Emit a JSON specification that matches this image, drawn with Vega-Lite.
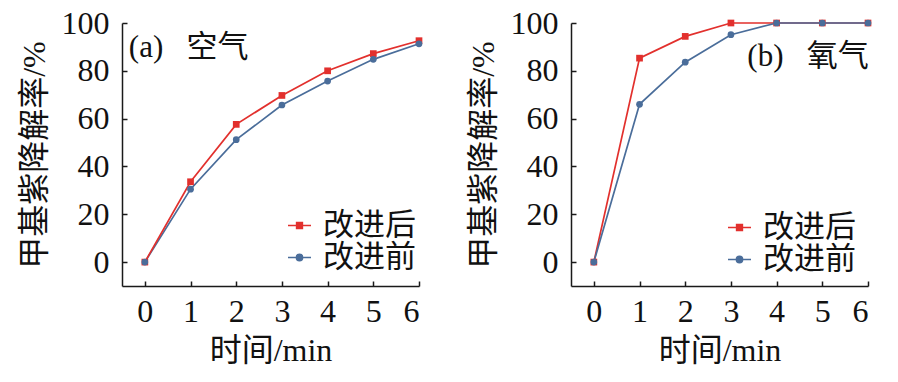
{
  "$schema": "https://vega.github.io/schema/vega-lite/v6.json",
  "padding": {"left": 18, "top": 7, "right": 0, "bottom": 0},
  "background": "white",
  "config": {
    "view": {"stroke": null},
    "font": "Liberation Serif, Noto Sans CJK SC",
    "axis": {
      "grid": false,
      "domainColor": "#1a1a1a",
      "domainWidth": 1.5,
      "tickColor": "#1a1a1a",
      "tickWidth": 1.5,
      "tickSize": -5,
      "labelFont": "Liberation Serif, Noto Sans CJK SC",
      "labelFontSize": 32,
      "labelColor": "#111",
      "titleFont": "Liberation Serif, Noto Sans CJK SC",
      "titleFontWeight": "normal",
      "titleColor": "#111"
    },
    "legend": {
      "symbolSize": 529,
      "symbolStrokeWidth": 1.6,
      "symbolOpacity": 1,
      "labelFontSize": 31,
      "labelFont": "Liberation Serif, Noto Sans CJK SC",
      "labelColor": "#111",
      "labelOffset": 8,
      "rowPadding": 0,
      "padding": 0
    }
  },
  "resolve": {
    "scale": {"fill": "independent", "stroke": "independent", "shape": "independent"},
    "legend": {"fill": "independent", "stroke": "independent", "shape": "independent"}
  },
  "datasets": {
    "air": [
      {"time": 0, "rate": 0, "series": "改进后"},
      {"time": 1, "rate": 33.6, "series": "改进后"},
      {"time": 2, "rate": 57.6, "series": "改进后"},
      {"time": 3, "rate": 69.7, "series": "改进后"},
      {"time": 4, "rate": 80.0, "series": "改进后"},
      {"time": 5, "rate": 87.2, "series": "改进后"},
      {"time": 6, "rate": 92.6, "series": "改进后"},
      {"time": 0, "rate": 0, "series": "改进前"},
      {"time": 1, "rate": 30.5, "series": "改进前"},
      {"time": 2, "rate": 51.2, "series": "改进前"},
      {"time": 3, "rate": 65.7, "series": "改进前"},
      {"time": 4, "rate": 75.7, "series": "改进前"},
      {"time": 5, "rate": 84.8, "series": "改进前"},
      {"time": 6, "rate": 91.3, "series": "改进前"}
    ],
    "oxygen": [
      {"time": 0, "rate": 0, "series": "改进后"},
      {"time": 1, "rate": 85.3, "series": "改进后"},
      {"time": 2, "rate": 94.4, "series": "改进后"},
      {"time": 3, "rate": 100, "series": "改进后"},
      {"time": 4, "rate": 100, "series": "改进后"},
      {"time": 5, "rate": 100, "series": "改进后"},
      {"time": 6, "rate": 100, "series": "改进后"},
      {"time": 0, "rate": 0, "series": "改进前"},
      {"time": 1, "rate": 66.0, "series": "改进前"},
      {"time": 2, "rate": 83.6, "series": "改进前"},
      {"time": 3, "rate": 95.1, "series": "改进前"},
      {"time": 4, "rate": 100, "series": "改进前"},
      {"time": 5, "rate": 100, "series": "改进前"},
      {"time": 6, "rate": 100, "series": "改进前"}
    ],
    "labelA": [{"time": -0.35, "rate": 89.5, "label": "(a)\u00a0\u00a0\u00a0空气"}],
    "labelB": [{"time": 3.36, "rate": 85.8, "label": "(b)\u00a0\u00a0\u00a0氧气"}]
  },
  "spacing": 44,
  "hconcat": [
    {
      "width": 297,
      "height": 263,
      "encoding": {
        "x": {"field": "time", "type": "quantitative", "scale": {"domain": [-0.5, 6], "nice": false, "zero": false},
              "axis": {"values": [0, 1, 2, 3, 4, 5, 6], "title": "时间/min", "titleFontSize": 32, "labelPadding": 15, "titlePadding": 8}},
        "y": {"field": "rate", "type": "quantitative", "scale": {"domain": [-10, 100], "nice": false, "zero": false},
              "axis": {"values": [0, 20, 40, 60, 80, 100], "title": "甲基紫降解率/%", "titleFontSize": 32, "labelPadding": 18, "titlePadding": 10}}
      },
      "layer": [
        {
          "data": {"name": "air"},
          "transform": [{"filter": "datum.series === '改进前'"}],
          "mark": {"type": "line", "strokeWidth": 1.7, "color": "#4a6d9a"},
          "encoding": {}
        },
        {
          "data": {"name": "air"},
          "transform": [{"filter": "datum.series === '改进后'"}],
          "mark": {"type": "line", "strokeWidth": 1.7, "color": "#e2302d"},
          "encoding": {}
        },
        {
          "data": {"name": "air"},
          "transform": [{"filter": "datum.series === '改进后'"}],
          "mark": {"type": "point", "filled": true, "opacity": 1, "size": 45, "shape": "square", "color": "#e2302d"},
          "encoding": {}
        },
        {
          "data": {"name": "air"},
          "transform": [{"filter": "datum.series === '改进前'"}],
          "mark": {"type": "point", "filled": true, "opacity": 1, "size": 45, "shape": "circle", "color": "#4a6d9a"},
          "encoding": {}
        },
        {
          "data": {"name": "air"},
          "transform": [{"filter": "datum.time > 100"}],
          "mark": {"type": "point", "filled": true, "opacity": 1, "strokeWidth": 1.6},
          "encoding": {
            "fill": {"field": "series", "type": "nominal", "scale": {"domain": ["改进后", "改进前"], "range": ["#e2302d", "#4a6d9a"]},
                     "legend": {"orient": "none", "title": null, "legendX": 162, "legendY": 187, "symbolOpacity": 1}},
            "stroke": {"field": "series", "type": "nominal", "scale": {"domain": ["改进后", "改进前"], "range": ["#e2302d", "#4a6d9a"]},
                     "legend": {"orient": "none", "title": null, "legendX": 162, "legendY": 187, "symbolOpacity": 1}},
            "shape": {"field": "series", "type": "nominal", "scale": {"domain": ["改进后", "改进前"], "range": ["M-1,0H1M-0.25,-0.25H0.25V0.25H-0.25Z", "M-1,0H1M0.27,0A0.27,0.27,0,1,1,-0.27,0A0.27,0.27,0,1,1,0.27,0Z"]},
                     "legend": {"orient": "none", "title": null, "legendX": 162, "legendY": 187, "symbolOpacity": 1}}
          }
        },
        {
          "data": {"name": "labelA"},
          "mark": {"type": "text", "align": "left", "baseline": "middle", "fontSize": 31, "font": "Liberation Serif, Noto Sans CJK SC", "color": "#111"},
          "encoding": {"text": {"field": "label"}}
        }
      ]
    },
    {
      "width": 297,
      "height": 263,
      "encoding": {
        "x": {"field": "time", "type": "quantitative", "scale": {"domain": [-0.5, 6], "nice": false, "zero": false},
              "axis": {"values": [0, 1, 2, 3, 4, 5, 6], "title": "时间/min", "titleFontSize": 32, "labelPadding": 15, "titlePadding": 8}},
        "y": {"field": "rate", "type": "quantitative", "scale": {"domain": [-10, 100], "nice": false, "zero": false},
              "axis": {"values": [0, 20, 40, 60, 80, 100], "title": "甲基紫降解率/%", "titleFontSize": 32, "labelPadding": 18, "titlePadding": 10}}
      },
      "layer": [
        {
          "data": {"name": "oxygen"},
          "transform": [{"filter": "datum.series === '改进后'"}],
          "mark": {"type": "line", "strokeWidth": 1.7, "color": "#e2302d"},
          "encoding": {}
        },
        {
          "data": {"name": "oxygen"},
          "transform": [{"filter": "datum.series === '改进前'"}],
          "mark": {"type": "line", "strokeWidth": 1.7, "color": "#4a6d9a"},
          "encoding": {}
        },
        {
          "data": {"name": "oxygen"},
          "transform": [{"filter": "datum.series === '改进后'"}],
          "mark": {"type": "point", "filled": true, "opacity": 1, "size": 45, "shape": "square", "color": "#e2302d"},
          "encoding": {}
        },
        {
          "data": {"name": "oxygen"},
          "transform": [{"filter": "datum.series === '改进前'"}],
          "mark": {"type": "point", "filled": true, "opacity": 1, "size": 45, "shape": "circle", "color": "#4a6d9a"},
          "encoding": {}
        },
        {
          "data": {"name": "oxygen"},
          "transform": [{"filter": "datum.time > 100"}],
          "mark": {"type": "point", "filled": true, "opacity": 1, "strokeWidth": 1.6},
          "encoding": {
            "fill": {"field": "series", "type": "nominal", "scale": {"domain": ["改进后", "改进前"], "range": ["#e2302d", "#4a6d9a"]},
                     "legend": {"orient": "none", "title": null, "legendX": 153, "legendY": 189, "symbolOpacity": 1}},
            "stroke": {"field": "series", "type": "nominal", "scale": {"domain": ["改进后", "改进前"], "range": ["#e2302d", "#4a6d9a"]},
                     "legend": {"orient": "none", "title": null, "legendX": 153, "legendY": 189, "symbolOpacity": 1}},
            "shape": {"field": "series", "type": "nominal", "scale": {"domain": ["改进后", "改进前"], "range": ["M-1,0H1M-0.25,-0.25H0.25V0.25H-0.25Z", "M-1,0H1M0.27,0A0.27,0.27,0,1,1,-0.27,0A0.27,0.27,0,1,1,0.27,0Z"]},
                     "legend": {"orient": "none", "title": null, "legendX": 153, "legendY": 189, "symbolOpacity": 1}}
          }
        },
        {
          "data": {"name": "labelB"},
          "mark": {"type": "text", "align": "left", "baseline": "middle", "fontSize": 31, "font": "Liberation Serif, Noto Sans CJK SC", "color": "#111"},
          "encoding": {"text": {"field": "label"}}
        }
      ]
    }
  ]
}
